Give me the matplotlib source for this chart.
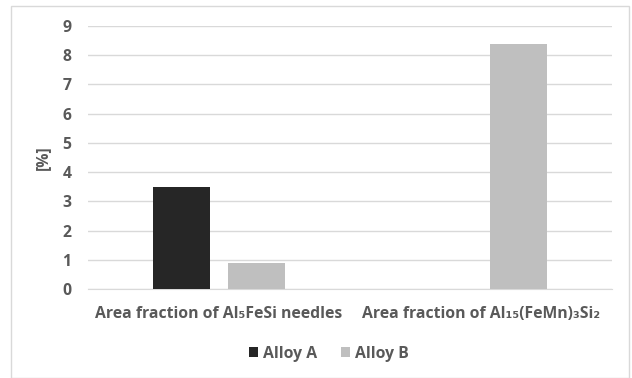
import numpy as np
import matplotlib
matplotlib.use("Agg")
import matplotlib.pyplot as plt
from matplotlib.patches import Rectangle

plt.rcParams['font.family'] = ['Open Sans', 'DejaVu Sans']
plt.rcParams['font.weight'] = 'bold'

categories = ["Area fraction of Al\u2085FeSi needles", "Area fraction of Al\u2081\u2085(FeMn)\u2083Si\u2082"]
series_names = ["Alloy A", "Alloy B"]
alloy_a = [3.5, 0.0]
alloy_b = [0.9, 8.4]
colors = ["#262626", "#bfbfbf"]
text_color = "#595959"
fs = 11.3

fig = plt.figure(figsize=(6.32, 3.78), dpi=100)
fig.patches.append(Rectangle((11 / 632, 0), 618 / 632, 1 - 6 / 378, transform=fig.transFigure,
                             fill=False, edgecolor="#d9d9d9", linewidth=1))
ax = fig.add_axes([88 / 632, 1 - 289 / 378, 524 / 632, 263 / 378])

x = np.arange(len(categories))
w = 0.221
off = 0.143
ax.bar(x - off, alloy_a, w, color=colors[0], label=series_names[0], zorder=3)
ax.bar(x + off, alloy_b, w, color=colors[1], label=series_names[1], zorder=3)

ax.set_xlim(-0.5, 1.5)
ax.set_ylim(0, 9)
ax.set_yticks(range(0, 10))
ax.yaxis.grid(True, color="#d9d9d9", linewidth=1)
ax.set_axisbelow(True)
for s in ax.spines.values():
    s.set_visible(False)
ax.spines['bottom'].set_visible(True)
ax.spines['bottom'].set_color("#d9d9d9")
ax.tick_params(length=0, colors=text_color, labelsize=fs)
ax.tick_params(axis='y', pad=12)
ax.tick_params(axis='x', pad=12)
ax.set_xticks(x)
ax.set_xticklabels(categories, fontweight='bold')
for t in ax.get_yticklabels():
    t.set_fontweight('bold')
ax.set_ylabel("[%]", color=text_color, fontsize=fs, labelpad=8, fontweight='bold')

leg = fig.legend(loc="center", bbox_to_anchor=(0.52, 1 - 354 / 378), ncol=2, frameon=False,
                 handlelength=0.6, handleheight=0.6, handletextpad=0.3, columnspacing=1.5,
                 prop={'size': fs, 'weight': 'bold'})
for t in leg.get_texts():
    t.set_color(text_color)

fig.savefig("out.png", dpi=100)
